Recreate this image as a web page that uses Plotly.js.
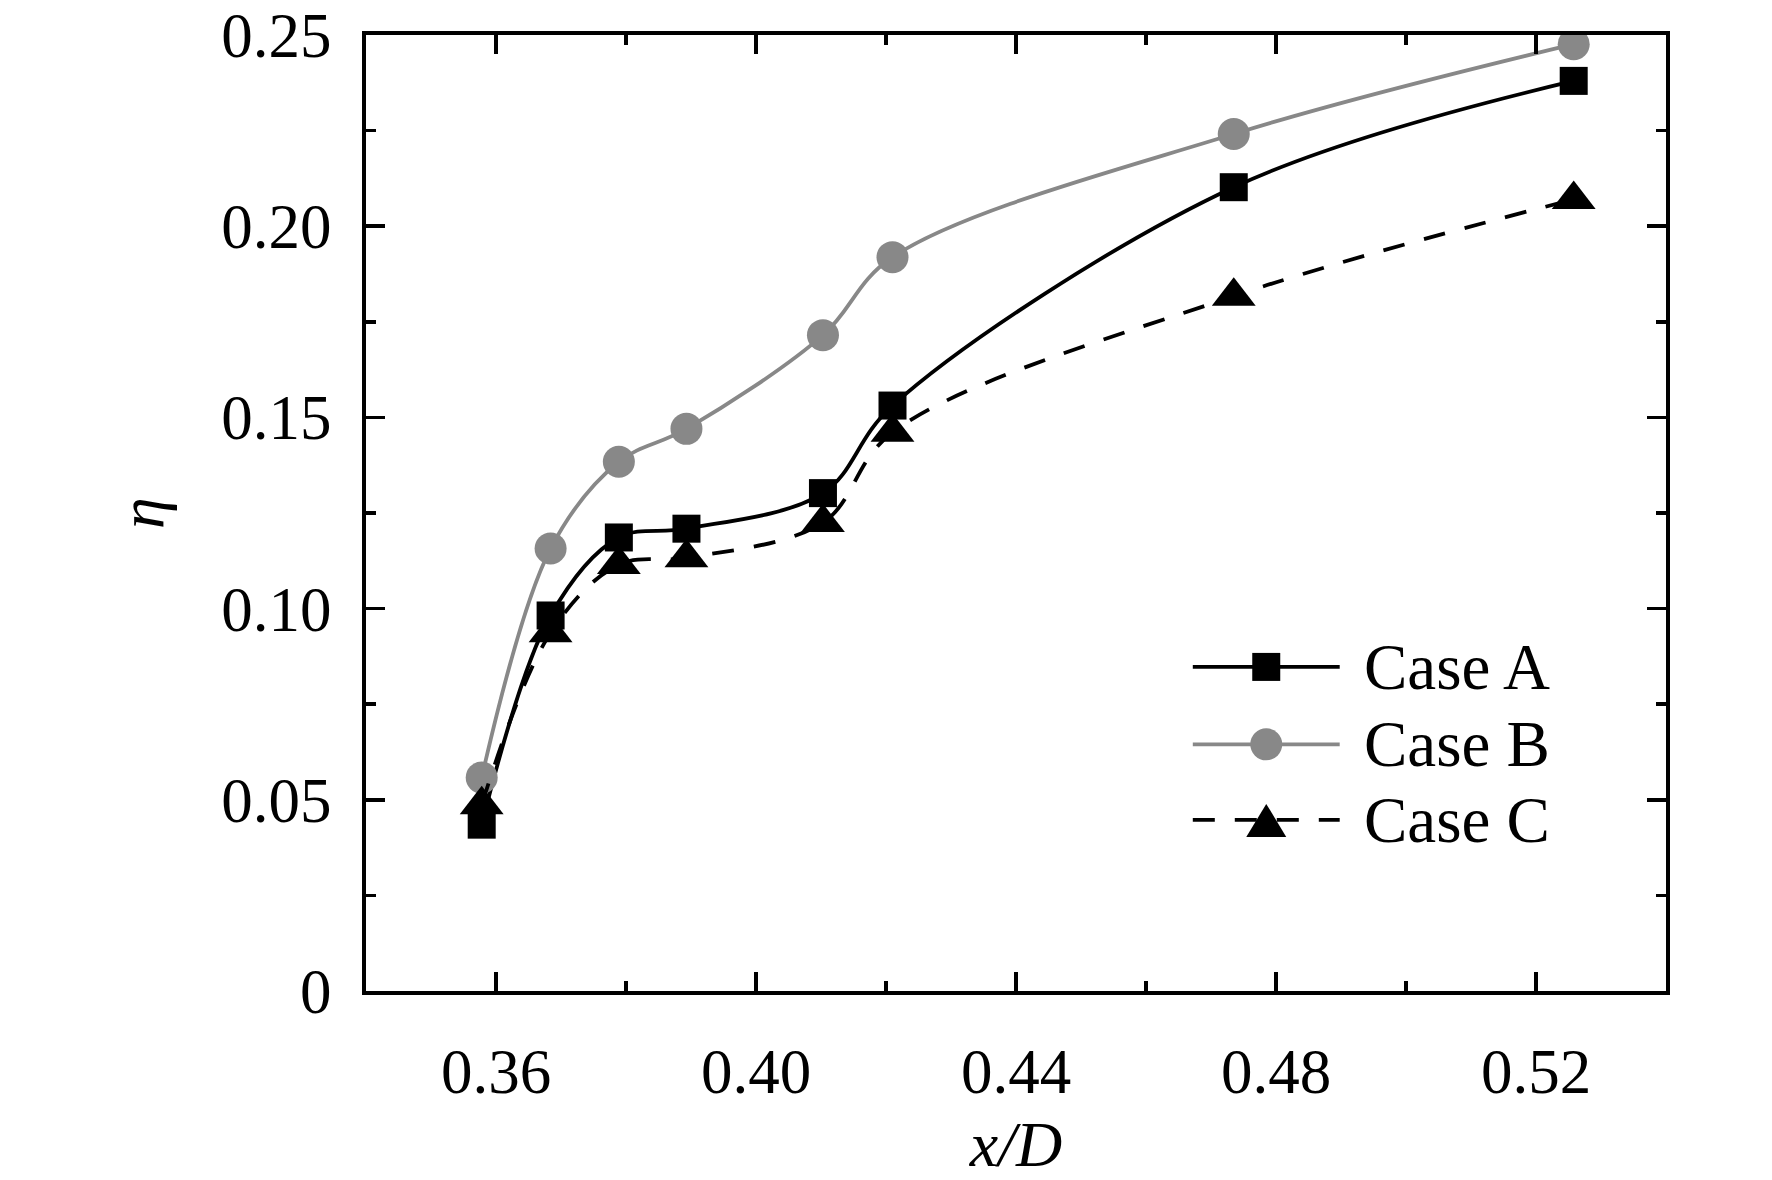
<!DOCTYPE html>
<html>
<head>
<meta charset="utf-8">
<script src="https://cdn.plot.ly/plotly-3.0.1.min.js"></script>
<style>html,body{margin:0;padding:0;background:#fff;}#chart{width:1772px;height:1180px;}</style>
</head>
<body>
<div id="chart"></div>
<script>
// x/D positions
var xD = [0.3578, 0.3684, 0.3789, 0.3893, 0.4103, 0.4210, 0.4735, 0.5258];
// efficiency eta for each case
var caseA = [0.0435, 0.0982, 0.1186, 0.1209, 0.1302, 0.1531, 0.2102, 0.2380];
var caseB = [0.0558, 0.1157, 0.1384, 0.1470, 0.1715, 0.1919, 0.2241, 0.2476];
var caseC = [0.0487, 0.0937, 0.1115, 0.1133, 0.1225, 0.1461, 0.1817, 0.2070];
var seriesNames = ['Case A', 'Case B', 'Case C'];

var xTickVals = [0.36, 0.40, 0.44, 0.48, 0.52];
var xTickText = ['0.36', '0.40', '0.44', '0.48', '0.52'];
var xMinorVals = [0.34, 0.38, 0.42, 0.46, 0.50, 0.54];
var yTickVals = [0, 0.05, 0.10, 0.15, 0.20, 0.25];
var yTickText = ['0', '0.05', '0.10', '0.15', '0.20', '0.25'];
var yMinorVals = [0.025, 0.075, 0.125, 0.175, 0.225];

var FONT = 'Liberation Serif, Times New Roman, serif';
var GRAY = '#888888';
var DASH = '22px,20px';

var traces = [
  {x: xD, y: caseA, name: seriesNames[0], type: 'scatter', mode: 'lines+markers',
   line: {color: '#000000', width: 3.8, shape: 'spline', smoothing: 1},
   marker: {symbol: 'square', size: 28, color: '#000000'}},
  {x: xD, y: caseB, name: seriesNames[1], type: 'scatter', mode: 'lines+markers',
   line: {color: GRAY, width: 3.8, shape: 'spline', smoothing: 1},
   marker: {symbol: 'circle', size: 32, color: GRAY}},
  {x: xD, y: caseC, name: seriesNames[2], type: 'scatter', mode: 'lines+markers',
   line: {color: '#000000', width: 3.8, shape: 'spline', smoothing: 1, dash: DASH},
   marker: {symbol: 'triangle-up', size: 38, color: '#000000'}}
];

function axisBase() {
  return {
    showgrid: false, zeroline: false,
    showline: true, linecolor: '#000', linewidth: 4, mirror: 'ticks',
    ticks: 'inside', ticklen: 19, tickwidth: 3.5, tickcolor: '#000',
    tickfont: {family: FONT, size: 63, color: '#000'},
    tickmode: 'array'
  };
}

var xaxis = axisBase();
Object.assign(xaxis, {
  range: [0.34, 0.54], tickvals: xTickVals, ticktext: xTickText,
  ticklabelstandoff: 22,
  minor: {tickmode: 'array', tickvals: xMinorVals, ticks: 'inside', ticklen: 10, tickwidth: 3.5, tickcolor: '#000', showgrid: false},
  title: {text: '<i>x/D</i>', font: {family: FONT, size: 64, color: '#000'}, standoff: 40}
});
var yaxis = axisBase();
Object.assign(yaxis, {
  range: [0, 0.25], tickvals: yTickVals, ticktext: yTickText,
  ticklabelstandoff: 18,
  minor: {tickmode: 'array', tickvals: yMinorVals, ticks: 'inside', ticklen: 10, tickwidth: 3.5, tickcolor: '#000', showgrid: false},
  title: {text: '<i>η</i>', font: {family: FONT, size: 64, color: '#000'}, standoff: 38}
});

// Hand-built legend (full-size symbols, long sample lines)
var legX0 = 0.636, legX1 = 0.749, legXc = 0.6925, legTextX = 0.766;
var legRows = [0.339, 0.258, 0.179];
var shapes = [];
var annotations = [];
var legStyles = [
  {color: '#000', width: 3.8, dash: 'solid'},
  {color: GRAY, width: 3.8, dash: 'solid'},
  {color: '#000', width: 3.8, dash: DASH}
];
for (var i = 0; i < 3; i++) {
  shapes.push({type: 'line', xref: 'paper', yref: 'paper', x0: legX0, x1: legX1, y0: legRows[i], y1: legRows[i],
    line: legStyles[i]});
  annotations.push({xref: 'paper', yref: 'paper', x: legTextX, y: legRows[i], xanchor: 'left', yanchor: 'middle',
    text: seriesNames[i], showarrow: false, font: {family: FONT, size: 65, color: '#000'}});
}
shapes.push({type: 'rect', xref: 'paper', yref: 'paper', xsizemode: 'pixel', ysizemode: 'pixel',
  xanchor: legXc, yanchor: legRows[0], x0: -14, x1: 14, y0: -14, y1: 14,
  fillcolor: '#000', line: {width: 0}});
shapes.push({type: 'circle', xref: 'paper', yref: 'paper', xsizemode: 'pixel', ysizemode: 'pixel',
  xanchor: legXc, yanchor: legRows[1], x0: -16, x1: 16, y0: -16, y1: 16,
  fillcolor: GRAY, line: {width: 0}});
shapes.push({type: 'path', xref: 'paper', yref: 'paper', xsizemode: 'pixel', ysizemode: 'pixel',
  xanchor: legXc, yanchor: legRows[2], path: 'M-20,-17 L20,-17 L0,16 Z',
  fillcolor: '#000', line: {width: 0}});

var layout = {
  width: 1772, height: 1180,
  margin: {l: 366, r: 106, t: 35, b: 189},
  paper_bgcolor: '#fff', plot_bgcolor: '#fff',
  showlegend: false,
  xaxis: xaxis, yaxis: yaxis,
  shapes: shapes, annotations: annotations
};

Plotly.newPlot('chart', traces, layout, {displayModeBar: false, staticPlot: true});
</script>
</body>
</html>
